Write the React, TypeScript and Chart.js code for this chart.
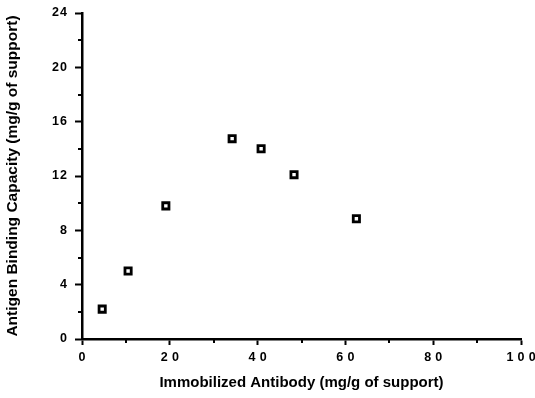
import React, { useEffect, useRef } from "react";
import { Chart, registerables } from "chart.js";

Chart.register(...registerables);

// Immobilized antibody loading (mg/g of support)
const antibodyLoading = [4.6, 10.5, 19.1, 34.2, 40.8, 48.3, 62.5];
// Antigen binding capacity (mg/g of support)
const bindingCapacity = [2.2, 5.0, 9.8, 14.75, 14.0, 12.1, 8.85];

const xTickValues = [0, 20, 40, 60, 80, 100];
const yTickValues = [0, 4, 8, 12, 16, 20, 24];

const xTitle = "Immobilized Antibody (mg/g of support)";
const yTitle = "Antigen Binding Capacity (mg/g of support)";

const FONT = "'Liberation Sans', Arial, Helvetica, sans-serif";

// spread digits apart like the typeset axis numbers
const spaced = (v: number, gap: string) => String(v).split("").join(gap);

// short unlabeled ticks halfway between the labeled ones
const minorTicks = {
  id: "minorTicks",
  afterDraw(chart: any) {
    const { ctx, chartArea, scales } = chart;
    ctx.save();
    ctx.strokeStyle = "#000";
    ctx.lineWidth = 2;
    const xs = scales.x;
    const ys = scales.y;
    for (let i = 0; i < xTickValues.length - 1; i++) {
      const v = (xTickValues[i] + xTickValues[i + 1]) / 2;
      const px = Math.round(xs.getPixelForValue(v));
      ctx.beginPath();
      ctx.moveTo(px, chartArea.bottom);
      ctx.lineTo(px, chartArea.bottom + 4);
      ctx.stroke();
    }
    for (let i = 0; i < yTickValues.length - 1; i++) {
      const v = (yTickValues[i] + yTickValues[i + 1]) / 2;
      const py = Math.round(ys.getPixelForValue(v));
      ctx.beginPath();
      ctx.moveTo(chartArea.left - 4, py);
      ctx.lineTo(chartArea.left, py);
      ctx.stroke();
    }
    ctx.restore();
  },
};

export default function App() {
  const canvasRef = useRef<HTMLCanvasElement | null>(null);

  useEffect(() => {
    const canvas = canvasRef.current;
    if (!canvas) return;
    const chart = new Chart(canvas, {
      type: "scatter",
      data: {
        datasets: [
          {
            data: antibodyLoading.map((x, i) => ({ x, y: bindingCapacity[i] })),
            pointStyle: "rect",
            pointRadius: 4.4,
            pointBorderWidth: 2.8,
            pointBorderColor: "#000",
            pointBackgroundColor: "#fff",
            showLine: false,
          },
        ],
      },
      options: {
        responsive: false,
        animation: false,
        events: [],
        layout: { padding: { left: 0, right: 14, top: 13, bottom: 0 } },
        plugins: { legend: { display: false }, tooltip: { enabled: false } },
        scales: {
          x: {
            type: "linear",
            min: 0,
            max: 100,
            afterFit: (s: any) => {
              s.height = 59;
              s.paddingRight = 0;
              s.paddingLeft = 0;
            },
            afterBuildTicks: (s: any) => {
              s.ticks = xTickValues.map((value) => ({ value }));
            },
            grid: {
              display: true,
              drawOnChartArea: false,
              drawTicks: true,
              tickLength: 6,
              tickWidth: 2,
              tickColor: "#000",
              color: "#000",
            },
            border: { display: true, color: "#000", width: 2.5 },
            ticks: {
              color: "#000",
              padding: 5,
              maxRotation: 0,
              font: { family: FONT, size: 12.5, weight: "bold" },
              callback: (v: any) => spaced(Number(v), "\u2004"),
            },
            title: {
              display: true,
              text: xTitle,
              color: "#000",
              font: { family: FONT, size: 15, weight: "bold" },
              padding: { top: 0, bottom: 6.5 },
            },
          },
          y: {
            type: "linear",
            min: 0,
            max: 24,
            afterFit: (s: any) => {
              s.width = 82;
              s.paddingTop = 0;
              s.paddingBottom = 0;
            },
            afterBuildTicks: (s: any) => {
              s.ticks = yTickValues.map((value) => ({ value }));
            },
            grid: {
              display: true,
              drawOnChartArea: false,
              drawTicks: true,
              tickLength: 7,
              tickWidth: 2,
              tickColor: "#000",
              color: "#000",
            },
            border: { display: true, color: "#000", width: 2.5 },
            ticks: {
              color: "#000",
              padding: 8,
              font: { family: FONT, size: 12.5, weight: "bold" },
              callback: (v: any) => spaced(Number(v), "\u200A"),
            },
            title: {
              display: true,
              text: yTitle,
              color: "#000",
              font: { family: FONT, size: 15.5, weight: "bold" },
              padding: { top: 3.5, bottom: 0 },
            },
          },
        },
      },
      plugins: [minorTicks],
    });
    return () => chart.destroy();
  }, []);

  return (
    <div style={{ position: "absolute", left: 0, top: 0, width: 535, height: 398, background: "#fff" }}>
      <canvas ref={canvasRef} width={535} height={398} style={{ display: "block" }} />
    </div>
  );
}
